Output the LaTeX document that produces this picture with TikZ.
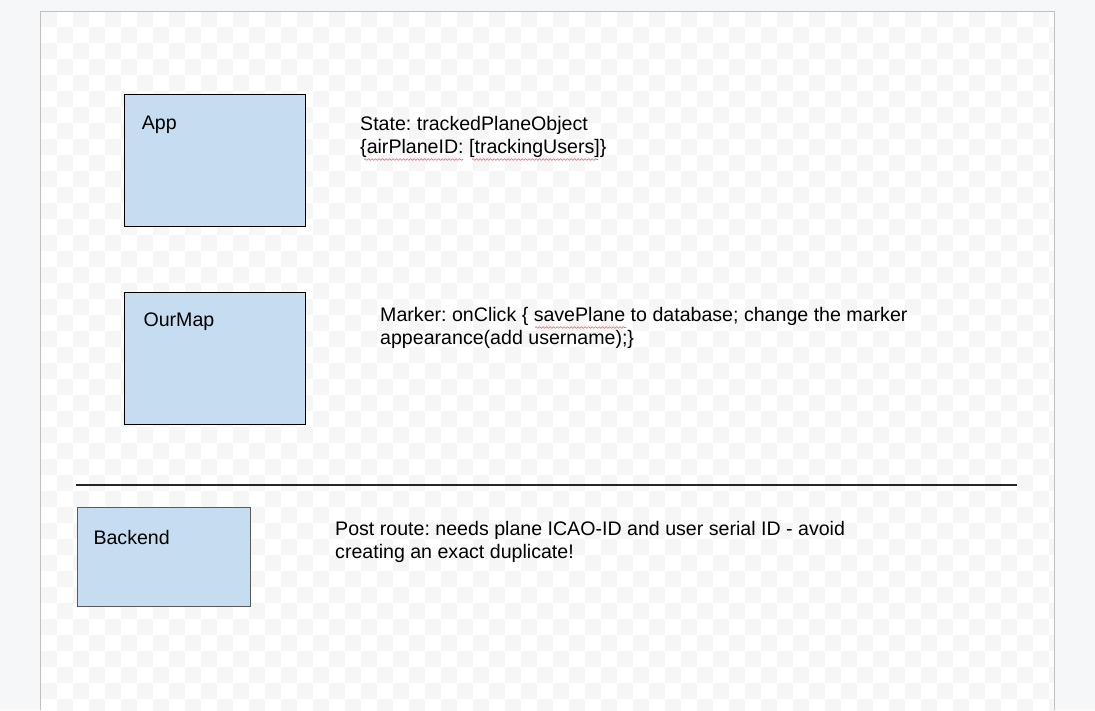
\documentclass[tikz,border=0pt]{standalone}
\usepackage{fontspec}
\setmainfont{Liberation Sans}
\usetikzlibrary{positioning,decorations.pathmorphing}
\definecolor{pageout}{RGB}{246,247,249}
\definecolor{checkgray}{RGB}{246,246,246}
\definecolor{pageborder}{RGB}{192,192,192}
\definecolor{boxblue}{RGB}{198,220,240}
\definecolor{boxgray}{RGB}{89,89,89}
\definecolor{spellred}{RGB}{232,96,96}
\frenchspacing

\begin{document}
\begin{tikzpicture}[
        x=1pt, y=-1pt,
        comp/.style={draw=black, fill=boxblue, line width=1pt, inner sep=0pt, anchor=north west},
        compname/.style={anchor=base west, inner sep=0pt, font=\fontsize{19.6}{23}\selectfont},
        note/.style={anchor=base west, inner sep=0pt, align=left, font=\fontsize{19.6}{23}\selectfont},
        sepline/.style={draw=black!85, line width=1.2pt},
        spellwave/.style={draw=spellred, line width=0.6pt, decorate, decoration={snake, amplitude=0.8pt, segment length=3.5pt}}
    ]
        % Page and background
        \useasboundingbox (0,0) rectangle (1095,710);
        \fill[pageout] (0,0) rectangle (1095,710);
        \fill[white] (40.7,11.3) rectangle (1054.5,710);
        \begin{scope}
            \clip (40.7,11.3) rectangle (1054.5,710);
            \foreach \r in {0,...,43} {
                \pgfmathsetmacro\off{mod(\r,2)}
                \foreach \c in {0,2,...,62} {
                    \fill[checkgray] ({40.7+(\c+\off)*16},{11.3+\r*16}) rectangle +(16,16);
                }
            }
        \end{scope}
        \draw[pageborder, line width=1pt] (40.7,710) -- (40.7,11.3) -- (1054.5,11.3) -- (1054.5,710);

        % App box
        \node[comp, minimum width=181pt, minimum height=132pt] (app) at (124,94) {};
        \node[compname] (appName) at ([shift={(17.7,35.3)}]app.north west) {App};
        \node[note] (appNote) at (360,153.7) {State: trackedPlaneObject\\
            \{airPlaneID: [trackingUsers]\}};
        \draw[spellwave] (364,159.5) -- (463,159.5);
        \draw[spellwave] (472,159.5) -- (598,159.5);

        % OurMap box
        \node[comp, minimum width=181pt, minimum height=132pt] (ourMap) at (124,292) {};
        \node[compname] (ourMapName) at ([shift={(19.3,34.7)}]ourMap.north west) {OurMap};
        \node[note] (ourMapNote) at (380,344.7) {Marker: onClick \{ savePlane to database; change the marker\\
            appearance(add username);\}};
        \draw[spellwave] (535,327.5) -- (626,327.5);

        % Separator
        \coordinate (sepL) at (76,485);
        \coordinate (sepR) at (1017,485);
        \draw[sepline] (sepL) -- (sepR);

        % Backend box
        \node[comp, draw=boxgray, minimum width=173pt, minimum height=99pt] (backend) at (77,507) {};
        \node[compname] (backendName) at ([shift={(16.3,37)}]backend.north west) {Backend};
        \node[note] (backendNote) at (335,558.7) {Post route: needs plane ICAO-ID and user serial ID - avoid\\
            creating an exact duplicate!};
    \end{tikzpicture}
\end{document}
